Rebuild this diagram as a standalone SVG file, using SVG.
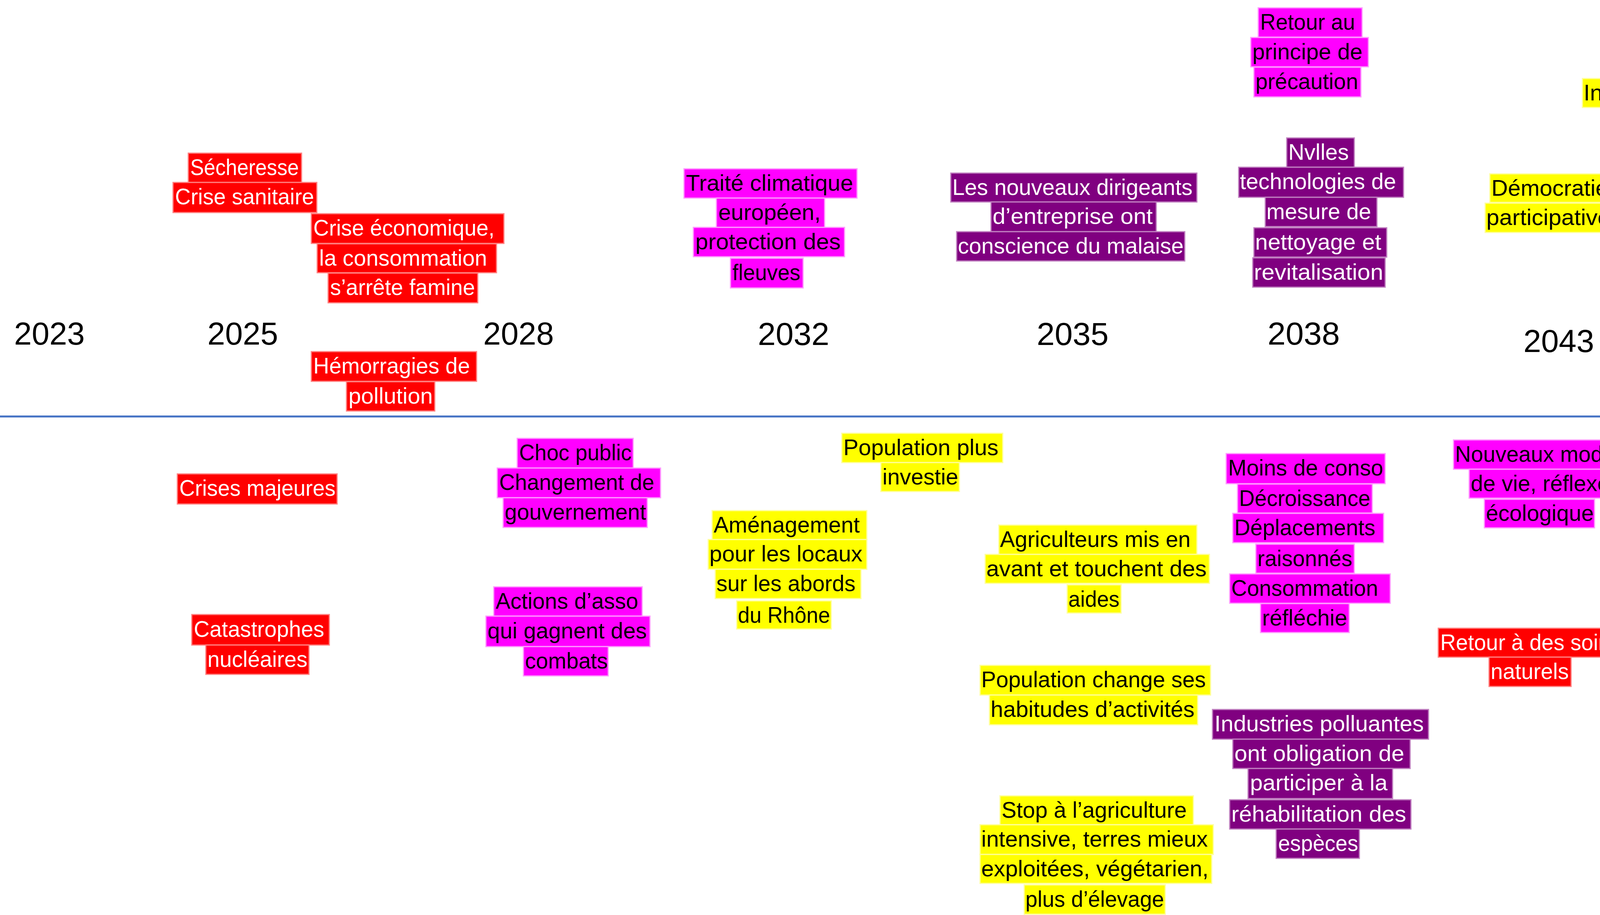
<svg xmlns="http://www.w3.org/2000/svg" width="5000" height="2342" viewBox="0 0 5000 2342">
<style>
rect{stroke-width:3}
.hr{fill:#ff0000;stroke:#ff8080}
.hm{fill:#ff00ff;stroke:#ff99ff}
.hy{fill:#ffff00;stroke:#ffff99}
.hp{fill:#800080;stroke:#c080c0}
text{font-family:"Liberation Sans",Arial,sans-serif;font-size:58px}
.w{fill:#ffffff}
.k{fill:#000000}
.yr{font-size:82px;fill:#000000}
</style>
<rect x="0" y="0" width="5000" height="2342" fill="#ffffff" stroke="none"/>
<g id="axis">
<line x1="0" y1="1066" x2="4802" y2="1066" stroke="#4472C4" stroke-width="5"/>
</g>
<g id="years">
<text class="yr" x="36" y="882" textLength="181" lengthAdjust="spacingAndGlyphs">2023</text>
<text class="yr" x="531" y="882" textLength="181" lengthAdjust="spacingAndGlyphs">2025</text>
<text class="yr" x="1237" y="882" textLength="181" lengthAdjust="spacingAndGlyphs">2028</text>
<text class="yr" x="1940" y="883" textLength="183" lengthAdjust="spacingAndGlyphs">2032</text>
<text class="yr" x="2654" y="883" textLength="184" lengthAdjust="spacingAndGlyphs">2035</text>
<text class="yr" x="3245" y="882" textLength="185" lengthAdjust="spacingAndGlyphs">2038</text>
<text class="yr" x="3900" y="901" textLength="181" lengthAdjust="spacingAndGlyphs">2043</text>
<text class="yr" x="4540" y="922" style="font-size:110px" textLength="243" lengthAdjust="spacingAndGlyphs">2050</text>
</g>
<g id="n-secheresse">
<rect class="hr" x="482" y="392" width="290" height="75"/>
<rect class="hr" x="443" y="467" width="368" height="77"/>
<text class="w" x="487" y="448" textLength="278" lengthAdjust="spacingAndGlyphs">Sécheresse</text>
<text class="w" x="448" y="523" textLength="356" lengthAdjust="spacingAndGlyphs">Crise sanitaire</text>
</g>
<g id="n-crise-eco">
<rect class="hr" x="797" y="547" width="493" height="76"/>
<rect class="hr" x="812" y="624" width="459" height="74"/>
<rect class="hr" x="840" y="699" width="383" height="76"/>
<text class="w" x="802" y="603" textLength="464" lengthAdjust="spacingAndGlyphs">Crise économique,</text>
<text class="w" x="817" y="680" textLength="430" lengthAdjust="spacingAndGlyphs">la consommation</text>
<text class="w" x="845" y="755" textLength="371" lengthAdjust="spacingAndGlyphs">s’arrête famine</text>
</g>
<g id="n-hemorragies">
<rect class="hr" x="797" y="900" width="423" height="76"/>
<rect class="hr" x="887" y="977" width="226" height="75"/>
<text class="w" x="802" y="956" textLength="401" lengthAdjust="spacingAndGlyphs">Hémorragies de</text>
<text class="w" x="892" y="1033" textLength="216" lengthAdjust="spacingAndGlyphs">pollution</text>
</g>
<g id="n-crises-majeures">
<rect class="hr" x="454" y="1213" width="409" height="77"/>
<text class="w" x="459" y="1269" textLength="400" lengthAdjust="spacingAndGlyphs">Crises majeures</text>
</g>
<g id="n-catastrophes">
<rect class="hr" x="491" y="1573" width="352" height="78"/>
<rect class="hr" x="527" y="1651" width="264" height="75"/>
<text class="w" x="496" y="1630" textLength="334" lengthAdjust="spacingAndGlyphs">Catastrophes</text>
<text class="w" x="531" y="1707" textLength="256" lengthAdjust="spacingAndGlyphs">nucléaires</text>
</g>
<g id="n-nettoyage">
<rect class="hr" x="4422" y="444" width="359" height="74"/>
<rect class="hr" x="4302" y="518" width="599" height="76"/>
<rect class="hr" x="4318" y="595" width="574" height="75"/>
<rect class="hr" x="4414" y="674" width="363" height="75"/>
<text class="w" x="4427" y="500" textLength="338" lengthAdjust="spacingAndGlyphs">Nettoyage en</text>
<text class="w" x="4307" y="574" textLength="581" lengthAdjust="spacingAndGlyphs">profondeur  des grands</text>
<text class="w" x="4323" y="651" textLength="548" lengthAdjust="spacingAndGlyphs">fleuves dont le Rhône</text>
<text class="w" x="4419" y="730" textLength="352" lengthAdjust="spacingAndGlyphs">par des robots</text>
</g>
<g id="n-soins">
<rect class="hr" x="3682" y="1608" width="483" height="74"/>
<rect class="hr" x="3812" y="1682" width="210" height="75"/>
<text class="w" x="3687" y="1664" textLength="463" lengthAdjust="spacingAndGlyphs">Retour à des soins</text>
<text class="w" x="3816" y="1738" textLength="200" lengthAdjust="spacingAndGlyphs">naturels</text>
</g>
<g id="n-question">
<rect class="hr" x="4640" y="1930" width="27" height="76"/>
<text class="w" x="4643" y="1986" textLength="22" lengthAdjust="spacingAndGlyphs">?</text>
</g>
<g id="n-traite">
<rect class="hm" x="1751" y="432" width="443" height="75"/>
<rect class="hm" x="1834" y="507" width="277" height="75"/>
<rect class="hm" x="1775" y="582" width="387" height="75"/>
<rect class="hm" x="1870" y="661" width="186" height="76"/>
<text class="k" x="1756" y="488" textLength="428" lengthAdjust="spacingAndGlyphs">Traité climatique</text>
<text class="k" x="1839" y="563" textLength="262" lengthAdjust="spacingAndGlyphs">européen,</text>
<text class="k" x="1780" y="638" textLength="372" lengthAdjust="spacingAndGlyphs">protection  des</text>
<text class="k" x="1875" y="717" textLength="174" lengthAdjust="spacingAndGlyphs">fleuves</text>
</g>
<g id="n-precaution">
<rect class="hm" x="3221" y="20" width="266" height="75"/>
<rect class="hm" x="3202" y="96" width="301" height="75"/>
<rect class="hm" x="3210" y="172" width="274" height="76"/>
<text class="k" x="3226" y="76" textLength="243" lengthAdjust="spacingAndGlyphs">Retour au</text>
<text class="k" x="3206" y="152" textLength="282" lengthAdjust="spacingAndGlyphs">principe de</text>
<text class="k" x="3214" y="228" textLength="263" lengthAdjust="spacingAndGlyphs">précaution</text>
</g>
<g id="n-choc">
<rect class="hm" x="1324" y="1122" width="297" height="76"/>
<rect class="hm" x="1273" y="1198" width="418" height="76"/>
<rect class="hm" x="1288" y="1274" width="369" height="76"/>
<text class="k" x="1329" y="1178" textLength="288" lengthAdjust="spacingAndGlyphs">Choc public</text>
<text class="k" x="1278" y="1254" textLength="397" lengthAdjust="spacingAndGlyphs">Changement de</text>
<text class="k" x="1292" y="1330" textLength="362" lengthAdjust="spacingAndGlyphs">gouvernement</text>
</g>
<g id="n-actions">
<rect class="hm" x="1264" y="1502" width="380" height="75"/>
<rect class="hm" x="1244" y="1577" width="420" height="78"/>
<rect class="hm" x="1340" y="1655" width="217" height="75"/>
<text class="k" x="1269" y="1558" textLength="365" lengthAdjust="spacingAndGlyphs">Actions d’asso</text>
<text class="k" x="1248" y="1634" textLength="408" lengthAdjust="spacingAndGlyphs">qui gagnent des</text>
<text class="k" x="1344" y="1711" textLength="212" lengthAdjust="spacingAndGlyphs">combats</text>
</g>
<g id="n-moins-conso">
<rect class="hm" x="3139" y="1161" width="407" height="77"/>
<rect class="hm" x="3168" y="1239" width="345" height="74"/>
<rect class="hm" x="3156" y="1314" width="386" height="75"/>
<rect class="hm" x="3215" y="1393" width="252" height="74"/>
<rect class="hm" x="3148" y="1469" width="411" height="75"/>
<rect class="hm" x="3227" y="1545" width="227" height="74"/>
<text class="k" x="3144" y="1217" textLength="397" lengthAdjust="spacingAndGlyphs">Moins de conso</text>
<text class="k" x="3172" y="1295" textLength="336" lengthAdjust="spacingAndGlyphs">Décroissance</text>
<text class="k" x="3160" y="1370" textLength="361" lengthAdjust="spacingAndGlyphs">Déplacements</text>
<text class="k" x="3219" y="1449" textLength="243" lengthAdjust="spacingAndGlyphs">raisonnés</text>
<text class="k" x="3152" y="1525" textLength="376" lengthAdjust="spacingAndGlyphs">Consommation</text>
<text class="k" x="3231" y="1601" textLength="218" lengthAdjust="spacingAndGlyphs">réfléchie</text>
</g>
<g id="n-nouveaux-modes">
<rect class="hm" x="3721" y="1126" width="464" height="75"/>
<rect class="hm" x="3761" y="1201" width="372" height="74"/>
<rect class="hm" x="3800" y="1278" width="282" height="73"/>
<text class="k" x="3725" y="1182" textLength="438" lengthAdjust="spacingAndGlyphs">Nouveaux modes</text>
<text class="k" x="3765" y="1257" textLength="356" lengthAdjust="spacingAndGlyphs">de vie, réflexe</text>
<text class="k" x="3804" y="1333" textLength="276" lengthAdjust="spacingAndGlyphs">écologique</text>
</g>
<g id="n-interdiction">
<rect class="hy" x="4051" y="201" width="595" height="74"/>
<rect class="hy" x="4166" y="275" width="354" height="76"/>
<text class="k" x="4054" y="257" textLength="584" lengthAdjust="spacingAndGlyphs">Interdiction  des usines</text>
<text class="k" x="4169" y="331" textLength="345" lengthAdjust="spacingAndGlyphs">de production</text>
</g>
<g id="n-democratie">
<rect class="hy" x="3814" y="445" width="314" height="73"/>
<rect class="hy" x="3802" y="520" width="323" height="75"/>
<text class="k" x="3818" y="501" textLength="299" lengthAdjust="spacingAndGlyphs">Démocratie</text>
<text class="k" x="3805" y="576" textLength="318" lengthAdjust="spacingAndGlyphs">participative</text>
</g>
<g id="n-population-plus">
<rect class="hy" x="2155" y="1109" width="412" height="75"/>
<rect class="hy" x="2255" y="1184" width="201" height="74"/>
<text class="k" x="2159" y="1165" textLength="397" lengthAdjust="spacingAndGlyphs">Population plus</text>
<text class="k" x="2259" y="1240" textLength="194" lengthAdjust="spacingAndGlyphs">investie</text>
</g>
<g id="n-amenagement">
<rect class="hy" x="1823" y="1307" width="396" height="74"/>
<rect class="hy" x="1813" y="1381" width="406" height="76"/>
<rect class="hy" x="1831" y="1457" width="373" height="75"/>
<rect class="hy" x="1886" y="1538" width="242" height="72"/>
<text class="k" x="1827" y="1363" textLength="374" lengthAdjust="spacingAndGlyphs">Aménagement</text>
<text class="k" x="1816" y="1437" textLength="392" lengthAdjust="spacingAndGlyphs">pour  les locaux</text>
<text class="k" x="1834" y="1513" textLength="356" lengthAdjust="spacingAndGlyphs">sur les abords</text>
<text class="k" x="1889" y="1594" textLength="236" lengthAdjust="spacingAndGlyphs">du Rhône</text>
</g>
<g id="n-agriculteurs">
<rect class="hy" x="2557" y="1344" width="507" height="75"/>
<rect class="hy" x="2522" y="1419" width="574" height="74"/>
<rect class="hy" x="2732" y="1497" width="138" height="72"/>
<text class="k" x="2560" y="1400" textLength="488" lengthAdjust="spacingAndGlyphs">Agriculteurs mis en</text>
<text class="k" x="2525" y="1475" textLength="564" lengthAdjust="spacingAndGlyphs">avant et touchent des</text>
<text class="k" x="2735" y="1553" textLength="131" lengthAdjust="spacingAndGlyphs">aides</text>
</g>
<g id="n-population-change">
<rect class="hy" x="2509" y="1703" width="590" height="76"/>
<rect class="hy" x="2533" y="1779" width="533" height="76"/>
<text class="k" x="2512" y="1759" textLength="575" lengthAdjust="spacingAndGlyphs">Population  change ses</text>
<text class="k" x="2536" y="1835" textLength="522" lengthAdjust="spacingAndGlyphs">habitudes d’activités</text>
</g>
<g id="n-stop">
<rect class="hy" x="2560" y="2037" width="495" height="74"/>
<rect class="hy" x="2509" y="2111" width="597" height="76"/>
<rect class="hy" x="2509" y="2187" width="593" height="74"/>
<rect class="hy" x="2622" y="2265" width="361" height="75"/>
<text class="k" x="2564" y="2093" textLength="474" lengthAdjust="spacingAndGlyphs">Stop  à l’agriculture</text>
<text class="k" x="2512" y="2167" textLength="580" lengthAdjust="spacingAndGlyphs">intensive, terres mieux</text>
<text class="k" x="2512" y="2243" textLength="582" lengthAdjust="spacingAndGlyphs">exploitées, végétarien,</text>
<text class="k" x="2625" y="2321" textLength="355" lengthAdjust="spacingAndGlyphs">plus d’élevage</text>
</g>
<g id="n-retour-valeurs">
<rect class="hy" x="4517" y="1642" width="292" height="74"/>
<rect class="hy" x="4541" y="1716" width="229" height="76"/>
<text class="k" x="4521" y="1698" textLength="272" lengthAdjust="spacingAndGlyphs">Retour aux</text>
<text class="k" x="4544" y="1772" textLength="221" lengthAdjust="spacingAndGlyphs">valeurs…</text>
</g>
<g id="n-dirigeants">
<rect class="hp" x="2434" y="443" width="630" height="74"/>
<rect class="hp" x="2537" y="517" width="423" height="76"/>
<rect class="hp" x="2449" y="593" width="584" height="75"/>
<text class="w" x="2438" y="499" textLength="615" lengthAdjust="spacingAndGlyphs">Les nouveaux dirigeants</text>
<text class="w" x="2541" y="573" textLength="410" lengthAdjust="spacingAndGlyphs">d’entreprise ont</text>
<text class="w" x="2452" y="649" textLength="578" lengthAdjust="spacingAndGlyphs">conscience du  malaise</text>
</g>
<g id="n-nvlles">
<rect class="hp" x="3294" y="353" width="173" height="75"/>
<rect class="hp" x="3171" y="428" width="422" height="77"/>
<rect class="hp" x="3239" y="505" width="286" height="75"/>
<rect class="hp" x="3210" y="583" width="340" height="75"/>
<rect class="hp" x="3207" y="660" width="339" height="75"/>
<text class="w" x="3298" y="409" textLength="155" lengthAdjust="spacingAndGlyphs">Nvlles</text>
<text class="w" x="3174" y="484" textLength="400" lengthAdjust="spacingAndGlyphs">technologies de</text>
<text class="w" x="3242" y="561" textLength="268" lengthAdjust="spacingAndGlyphs">mesure de</text>
<text class="w" x="3213" y="639" textLength="323" lengthAdjust="spacingAndGlyphs">nettoyage et</text>
<text class="w" x="3210" y="716" textLength="331" lengthAdjust="spacingAndGlyphs">revitalisation</text>
</g>
<g id="n-industries-obligation">
<rect class="hp" x="3104" y="1816" width="553" height="76"/>
<rect class="hp" x="3156" y="1892" width="454" height="75"/>
<rect class="hp" x="3195" y="1967" width="370" height="77"/>
<rect class="hp" x="3148" y="2047" width="464" height="75"/>
<rect class="hp" x="3267" y="2122" width="213" height="75"/>
<text class="w" x="3109" y="1872" textLength="536" lengthAdjust="spacingAndGlyphs">Industries polluantes</text>
<text class="w" x="3160" y="1948" textLength="435" lengthAdjust="spacingAndGlyphs">ont obligation de</text>
<text class="w" x="3200" y="2023" textLength="352" lengthAdjust="spacingAndGlyphs">participer à la</text>
<text class="w" x="3152" y="2103" textLength="448" lengthAdjust="spacingAndGlyphs">réhabilitation des</text>
<text class="w" x="3272" y="2178" textLength="205" lengthAdjust="spacingAndGlyphs">espèces</text>
</g>
<g id="n-grand-mouvement">
<rect class="hp" x="4466" y="1146" width="498" height="76"/>
<rect class="hp" x="4514" y="1222" width="391" height="74"/>
<rect class="hp" x="4459" y="1297" width="497" height="74"/>
<rect class="hp" x="4605" y="1378" width="193" height="73"/>
<text class="w" x="4470" y="1202" textLength="468" lengthAdjust="spacingAndGlyphs">Grand mouvement</text>
<text class="w" x="4517" y="1278" textLength="377" lengthAdjust="spacingAndGlyphs">écologique, on</text>
<text class="w" x="4462" y="1353" textLength="485" lengthAdjust="spacingAndGlyphs">arrive à nettoyer  la</text>
<text class="w" x="4608" y="1433" textLength="186" lengthAdjust="spacingAndGlyphs">planète</text>
</g>
<g id="n-industries-bord">
<rect class="hp" x="4219" y="1373" width="268" height="73"/>
<rect class="hp" x="4107" y="1449" width="496" height="73"/>
<rect class="hp" x="4222" y="1524" width="242" height="72"/>
<text class="w" x="4222" y="1429" textLength="252" lengthAdjust="spacingAndGlyphs">Industries</text>
<text class="w" x="4110" y="1505" textLength="482" lengthAdjust="spacingAndGlyphs">polluantes au bord</text>
<text class="w" x="4225" y="1580" textLength="234" lengthAdjust="spacingAndGlyphs">du Rhône</text>
</g>
<g id="n-regulation">
<rect class="hp" x="4134" y="2018" width="428" height="74"/>
<rect class="hp" x="4112" y="2092" width="479" height="75"/>
<rect class="hp" x="4203" y="2169" width="285" height="73"/>
<text class="w" x="4138" y="2074" textLength="410" lengthAdjust="spacingAndGlyphs">Régulation de la</text>
<text class="w" x="4115" y="2148" textLength="462" lengthAdjust="spacingAndGlyphs">population  par les</text>
<text class="w" x="4206" y="2225" textLength="280" lengthAdjust="spacingAndGlyphs">naissances</text>
</g>
</svg>
